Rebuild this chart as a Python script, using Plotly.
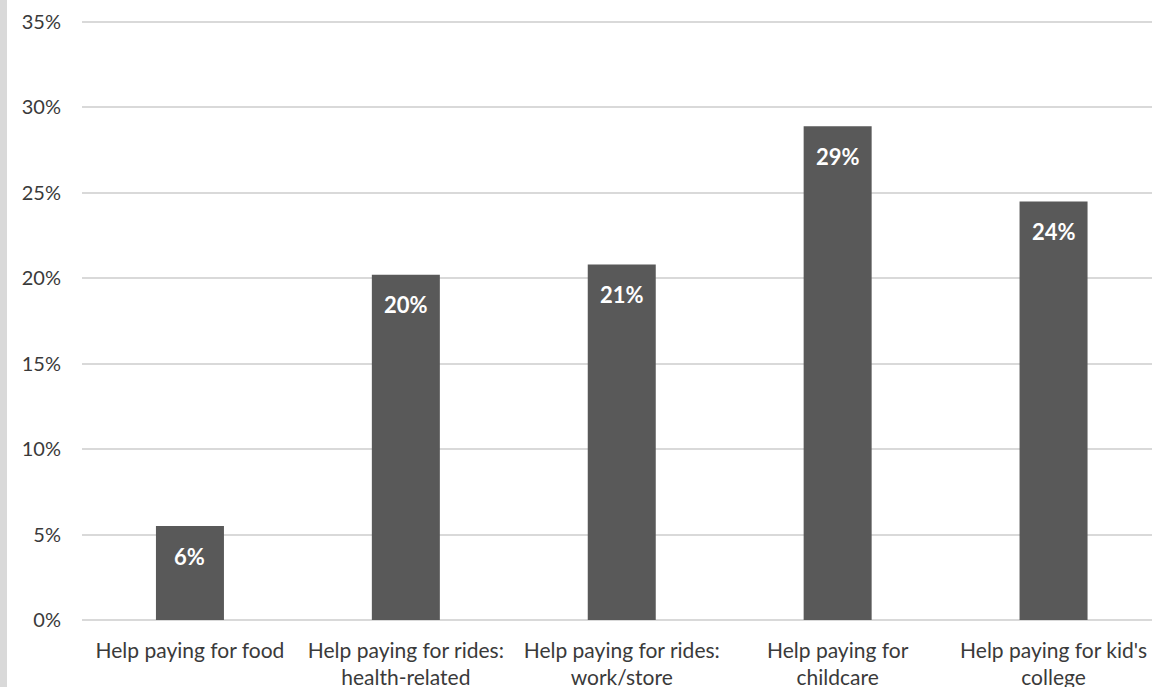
import plotly.graph_objects as go

categories = [
    "Help paying for food",
    "Help paying for rides:<br>health-related",
    "Help paying for rides:<br>work/store",
    "Help paying for<br>childcare",
    "Help paying for kid's<br>college",
]
values = [5.5, 20.2, 20.8, 28.9, 24.5]
labels = ["6%", "20%", "21%", "29%", "24%"]
tick_vals = [0, 5, 10, 15, 20, 25, 30, 35]
tick_text = ["0%", "5%", "10%", "15%", "20%", "25%", "30%", "35%"]

FONT = "Lato, Calibri, sans-serif"
W, H = 1152, 687
ML, MT, MB = 82, 21, 66
plot_w = W - ML
plot_h = H - MT - MB

fig = go.Figure()
fig.add_trace(go.Bar(
    x=list(range(len(categories))),
    y=values,
    marker=dict(color="#595959", line=dict(width=0)),
    width=0.315,
    hoverinfo="skip",
))

for i, (v, t) in enumerate(zip(values, labels)):
    fig.add_annotation(
        x=i, y=v, text=f"<b>{t}</b>", showarrow=False,
        yanchor="middle", yshift=-30,
        font=dict(family=FONT, size=22, color="white"),
    )

# left gray strip
fig.add_shape(
    type="rect", xref="paper", yref="paper",
    x0=-ML / plot_w, x1=(7 - ML) / plot_w,
    y0=-MB / plot_h, y1=1 + MT / plot_h,
    fillcolor="#d9d9d9", line=dict(width=0), layer="below",
)

fig.update_layout(
    width=W, height=H,
    margin=dict(l=ML, r=0, t=MT, b=MB, pad=0, autoexpand=False),
    paper_bgcolor="white", plot_bgcolor="white",
    showlegend=False,
    font=dict(family=FONT, size=20, color="#3a3a3a"),
    xaxis=dict(
        tickmode="array",
        tickvals=list(range(len(categories))),
        ticktext=categories,
        range=[-0.5, -0.5 + plot_w / 215.9],
        showgrid=False, zeroline=False, showline=False,
        ticks="", ticklabelstandoff=15, automargin=False,
        tickfont=dict(family=FONT, size=21, color="#3a3a3a"),
        fixedrange=True,
    ),
    yaxis=dict(
        range=[-0.06, 35.06],
        tickmode="array", tickvals=tick_vals, ticktext=tick_text,
        showgrid=True, gridcolor="#d9d9d9", gridwidth=2,
        zeroline=True, zerolinecolor="#d9d9d9", zerolinewidth=2,
        showline=False, ticks="", automargin=False,
        ticklabelstandoff=20,
        tickfont=dict(family=FONT, size=20, color="#3a3a3a"),
        fixedrange=True,
    ),
)

fig.write_html("out.html", config={"displayModeBar": False})
